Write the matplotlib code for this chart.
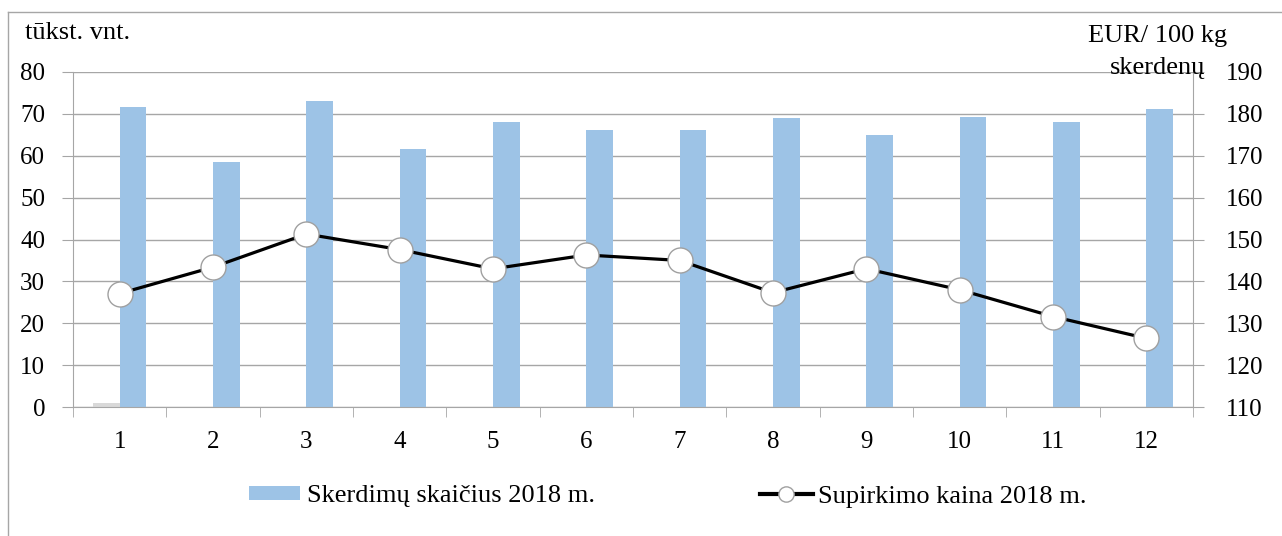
import numpy as np
import matplotlib.pyplot as plt
from matplotlib.lines import Line2D

plt.rcParams.update({'font.family': "serif",
                     'font.serif': ["Liberation Serif", "DejaVu Serif"],
                     'font.size': 18})

# Data
months = ["1", "2", "3", "4", "5", "6", "7", "8", "9", "10", "11", "12"]
slaughter_2018 = [71.7, 58.6, 73.0, 61.7, 68.1, 66.2, 66.2, 69.0, 65.0, 69.3, 68.1, 71.1]
other_series = [1.0, 0, 0, 0, 0, 0, 0, 0, 0, 0, 0, 0]
price_2018 = [137.1, 143.4, 151.3, 147.6, 143.0, 146.3, 145.0, 137.3, 143.0, 138.0, 131.6, 126.4]

bar_color = "#9DC3E6"
grid_color = "#A6A6A6"

W, H = 1282, 536
fig = plt.figure(figsize=(W / 100, H / 100), dpi=100)
ax = fig.add_axes([73 / W, 1 - 407 / H, 1120 / W, 335 / H])
ax2 = ax.twinx()

x = np.arange(len(months))
w = 0.286
ax.bar(x - w / 2, other_series, width=w, color="#D9D9D9", zorder=2)
bars = ax.bar(x + w / 2, slaughter_2018, width=w, color=bar_color, zorder=2)
line, = ax2.plot(x, price_2018, color="black", linewidth=2.3, marker="o", markersize=18,
                 markerfacecolor="white", markeredgecolor="#A0A0A0", markeredgewidth=1.0,
                 zorder=3)

# Axes formatting
ax.set_xlim(-0.5, len(months) - 0.5)
ax.set_ylim(0, 80)
ax.set_yticks(np.arange(0, 81, 10))
ax2.set_ylim(110, 190)
ax2.set_yticks(np.arange(110, 191, 10))
ax.set_xticks(x)
ax.set_xticklabels(months)
ax.set_xticks(np.arange(-0.5, len(months), 1), minor=True)
ax.tick_params(axis="x", which="major", length=0, pad=17)
ax.tick_params(axis="x", which="minor", length=7, color=grid_color)
ax.tick_params(axis="y", length=8, color=grid_color, pad=12)
ax2.tick_params(axis="y", length=8, color=grid_color, pad=16)
ax.grid(axis="y", color=grid_color, linewidth=1.0, zorder=0)
ax.set_axisbelow(True)

for a in (ax, ax2):
    a.spines["top"].set_visible(False)
    for s in ("left", "right", "bottom"):
        a.spines[s].set_color(grid_color)
ax.spines["right"].set_visible(False)
ax2.spines["left"].set_visible(False)
ax2.spines["bottom"].set_visible(False)

# Unit labels
fig.text(25 / W, 1 - 33 / H, "tūkst. vnt.", ha="left", va="center", fontsize=19)
fig.text(1227 / W, 1 - 36 / H, "EUR/ 100 kg", ha="right", va="center", fontsize=19)
fig.text(1205 / W, 1 - 68 / H, "skerdenų", ha="right", va="center", fontsize=19)

# Legend (two entries placed separately)
leg_y = 1 - 496 / H
fig.legend([bars], ["Skerdimų skaičius 2018 m."], loc="center left",
           bbox_to_anchor=(249 / W, leg_y), frameon=False, fontsize=19,
           handlelength=1.93, handleheight=0.45, handletextpad=0.27,
           borderaxespad=0, borderpad=0)
line_handle = Line2D([], [], color="black", linewidth=3, marker="o", markersize=11,
                     markerfacecolor="white", markeredgecolor="#A0A0A0")
fig.legend([line_handle], ["Supirkimo kaina 2018 m."], loc="center left",
           bbox_to_anchor=(760 / W, leg_y), frameon=False, fontsize=19,
           handlelength=2.0, handletextpad=0.19, borderaxespad=0, borderpad=0)

# Outer frame (top and left edges visible)
fig.add_artist(Line2D([8 / W, 1], [1 - 12 / H, 1 - 12 / H], transform=fig.transFigure,
                      color=grid_color, linewidth=1.0))
fig.add_artist(Line2D([8 / W, 8 / W], [0, 1 - 12 / H], transform=fig.transFigure,
                      color=grid_color, linewidth=1.0))

fig.savefig("out.png", dpi=100)
